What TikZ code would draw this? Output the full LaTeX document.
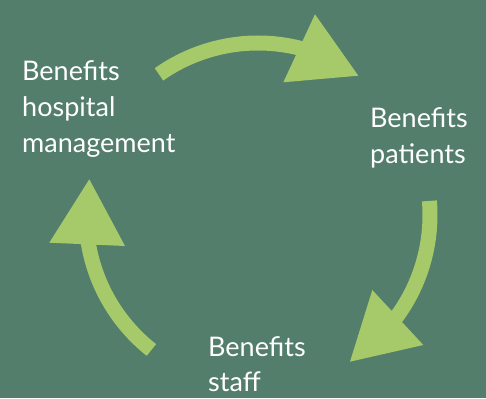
\documentclass[tikz,border=0pt]{standalone}
\usepackage{fontspec}
\setmainfont{Lato}
\definecolor{bg}{RGB}{82,126,107}
\definecolor{arr}{RGB}{166,201,106}
\tikzset{
  shaft/.style={draw=arr, line width=15pt, line cap=butt},
  head/.style={fill=arr, draw=none},
  lbl/.style={text=white, font=\fontsize{27}{36}\selectfont, align=left, inner sep=0pt, anchor=base west}
}
\begin{document}
\begin{tikzpicture}[x=1pt,y=1pt]
\fill[bg] (0,0) rectangle (486,398);
\useasboundingbox (0,0) rectangle (486,398);
\coordinate (c) at (258,183);
% arrow 1: hospital -> patients
\draw[shaft] ([shift={(125.15:172pt)}]c) arc[start angle=125.15, end angle=74, radius=172pt];
\coordinate (h1a) at (315,383.7);
\coordinate (h1t) at (358.3,322.3);
\coordinate (h1b) at (283.3,315.7);
\fill[head] (h1a) -- (h1t) -- (h1b) -- cycle;
% arrow 2: patients -> staff
\draw[shaft] ([shift={(4.7:172pt)}]c) arc[start angle=4.7, end angle=-38, radius=172pt];
\coordinate (h2a) at (372.3,108);
\coordinate (h2b) at (423.3,53);
\coordinate (h2t) at (350,36.3);
\fill[head] (h2a) -- (h2b) -- (h2t) -- cycle;
% arrow 3: staff -> hospital
\draw[shaft] ([shift={(231.7:172pt)}]c) arc[start angle=231.7, end angle=188, radius=172pt];
\coordinate (h3t) at (89.3,218.7);
\coordinate (h3a) at (49.3,155.3);
\coordinate (h3b) at (125,152);
\fill[head] (h3t) -- (h3a) -- (h3b) -- cycle;
% labels
\node[lbl] (hosp) at (22,245) {Benefits\\hospital\\management};
\node[lbl] (pat) at (370,234) {Benefits\\patients};
\node[lbl, font=\fontsize{27}{34}\selectfont] (staff) at (208,7) {Benefits\\staff};
\end{tikzpicture}
\end{document}
